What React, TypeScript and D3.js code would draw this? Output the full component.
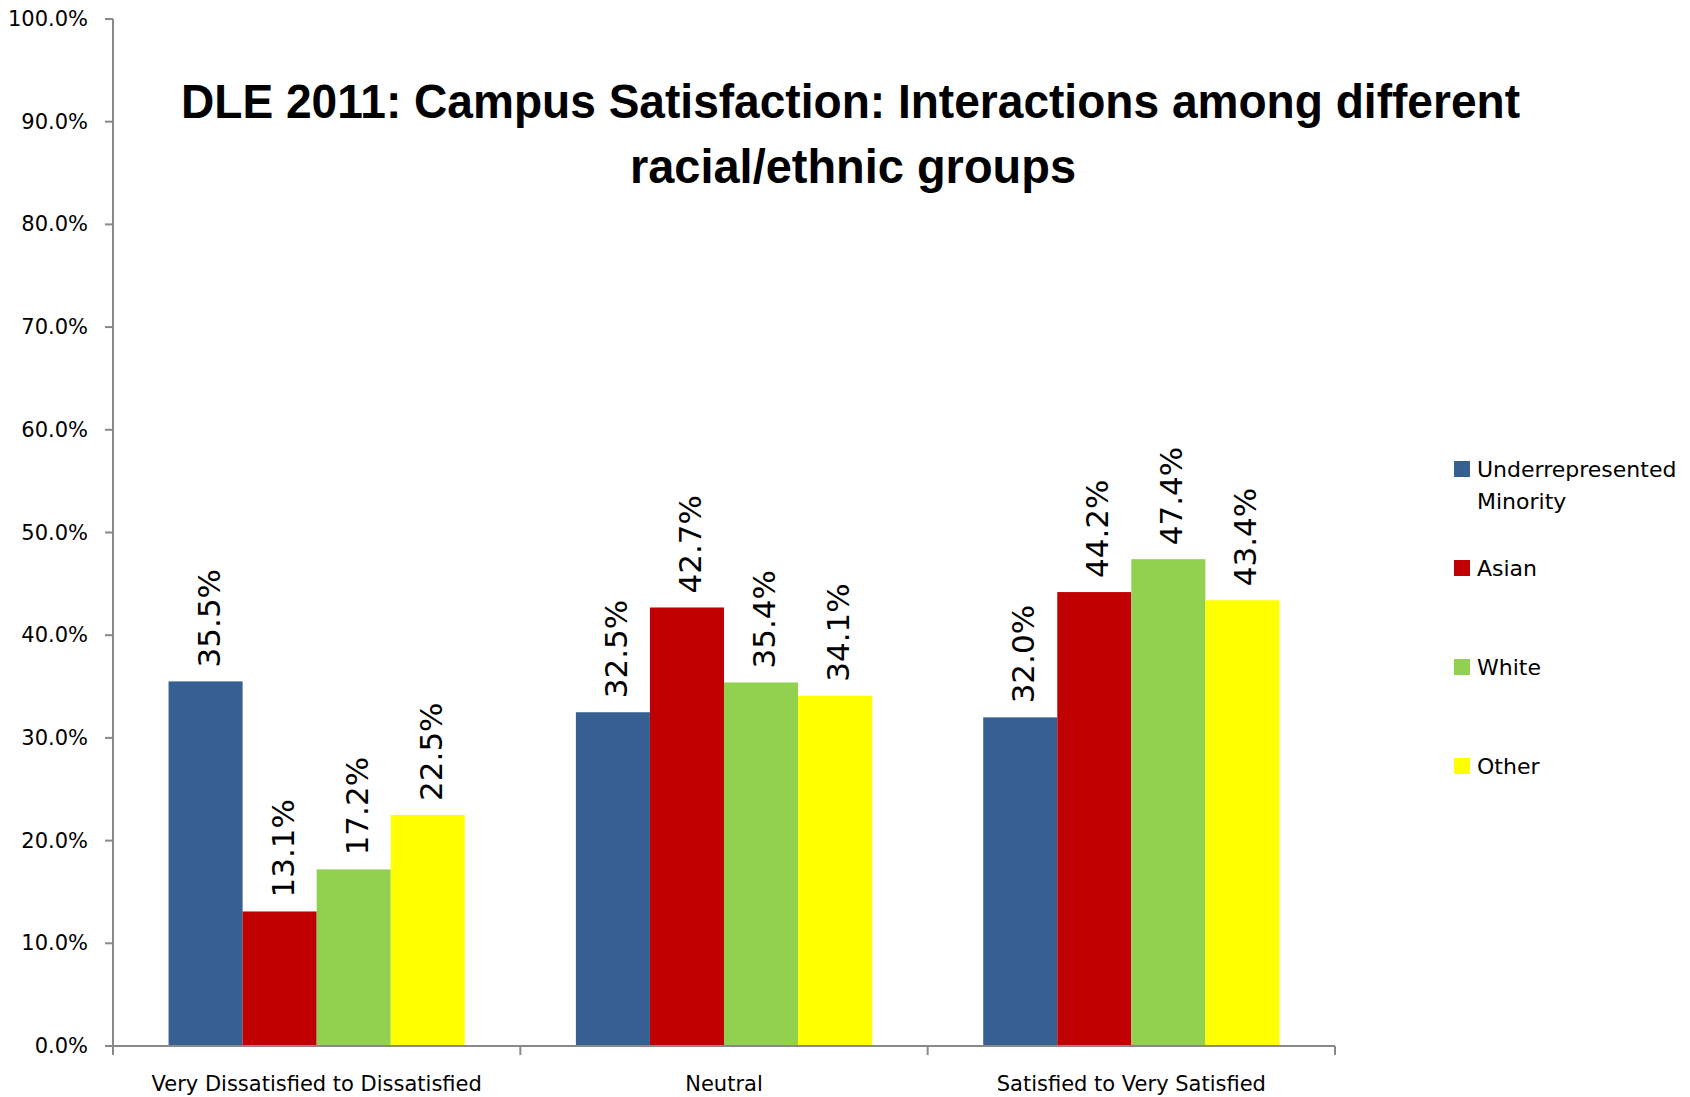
import * as d3 from 'd3';
import { useRef, useEffect } from 'react';

const categories = ['Very Dissatisfied to Dissatisfied', 'Neutral', 'Satisfied to Very Satisfied'];
const seriesNames = ['Underrepresented Minority', 'Asian', 'White', 'Other'];
const seriesColors = ['#366092', '#C00000', '#92D050', '#FFFF00'];
const urmValues = [35.5, 32.5, 32.0];
const asianValues = [13.1, 42.7, 44.2];
const whiteValues = [17.2, 35.4, 47.4];
const otherValues = [22.5, 34.1, 43.4];
const yTicks = [0, 10, 20, 30, 40, 50, 60, 70, 80, 90, 100];
const titleLines = ['DLE 2011: Campus Satisfaction: Interactions among different', 'racial/ethnic groups'];

const font = '"DejaVu Sans", sans-serif';

const App = () => {
    const svgRef = useRef<SVGSVGElement | null>(null);

    useEffect(() => {
        const width = 1690;
        const height = 1097;
        const left = 113, right = 1335, top = 19, bottom = 1046;

        d3.select(svgRef.current).selectAll('*').remove();
        const svg = d3.select(svgRef.current)
            .attr('width', width)
            .attr('height', height);

        svg.append('rect').attr('width', width).attr('height', height).attr('fill', '#fff');

        const allSeries = [urmValues, asianValues, whiteValues, otherValues];
        const rows = categories.map((c, i) => ({
            category: c,
            values: seriesNames.map((s, j) => ({ series: s, value: allSeries[j][i], color: seriesColors[j] }))
        }));

        // scales - Excel style gap width 150%
        const x0 = d3.scaleBand()
            .domain(categories)
            .range([left, right])
            .paddingInner(1.5 / 5.5)
            .paddingOuter(0.75 / 5.5);
        const x1 = d3.scaleBand()
            .domain(seriesNames)
            .range([0, x0.bandwidth()]);
        const y = d3.scaleLinear().domain([0, 100]).range([bottom, top]);

        // bars
        const groups = svg.selectAll('g.group')
            .data(rows)
            .enter()
            .append('g')
            .attr('class', 'group')
            .attr('transform', d => `translate(${x0(d.category)},0)`);

        groups.selectAll('rect')
            .data(d => d.values)
            .enter()
            .append('rect')
            .attr('x', d => x1(d.series)!)
            .attr('y', d => y(d.value))
            .attr('width', x1.bandwidth())
            .attr('height', d => bottom - y(d.value))
            .attr('fill', d => d.color);

        // rotated value labels
        groups.selectAll('text')
            .data(d => d.values)
            .enter()
            .append('text')
            .attr('transform', d => `translate(${x1(d.series)! + x1.bandwidth() / 2 + 14},${y(d.value) - 14}) rotate(-90)`)
            .attr('font-family', font)
            .attr('font-size', 31)
            .attr('fill', '#000')
            .text(d => d.value.toFixed(1) + '%');

        // y axis
        const axisColor = '#898989';
        svg.append('line')
            .attr('x1', left).attr('x2', left)
            .attr('y1', top).attr('y2', bottom + 9)
            .attr('stroke', axisColor).attr('stroke-width', 2);
        svg.selectAll('line.ytick')
            .data(yTicks)
            .enter()
            .append('line')
            .attr('class', 'ytick')
            .attr('x1', left - 8).attr('x2', left)
            .attr('y1', d => y(d)).attr('y2', d => y(d))
            .attr('stroke', axisColor).attr('stroke-width', 2);
        svg.selectAll('text.ylabel')
            .data(yTicks)
            .enter()
            .append('text')
            .attr('class', 'ylabel')
            .attr('x', 88)
            .attr('y', d => y(d) + 7)
            .attr('text-anchor', 'end')
            .attr('font-family', font)
            .attr('font-size', 21)
            .attr('fill', '#000')
            .text(d => d.toFixed(1) + '%');

        // x axis
        svg.append('line')
            .attr('x1', left).attr('x2', right)
            .attr('y1', bottom).attr('y2', bottom)
            .attr('stroke', axisColor).attr('stroke-width', 2);
        const step = x0.step();
        svg.selectAll('line.xtick')
            .data(categories)
            .enter()
            .append('line')
            .attr('class', 'xtick')
            .attr('x1', (_, i) => left + step * (i + 1))
            .attr('x2', (_, i) => left + step * (i + 1))
            .attr('y1', bottom).attr('y2', bottom + 9)
            .attr('stroke', axisColor).attr('stroke-width', 2);
        svg.selectAll('text.xlabel')
            .data(categories)
            .enter()
            .append('text')
            .attr('class', 'xlabel')
            .attr('x', d => x0(d)! + x0.bandwidth() / 2)
            .attr('y', 1091)
            .attr('text-anchor', 'middle')
            .attr('font-family', font)
            .attr('font-size', 21)
            .attr('fill', '#000')
            .text(d => d);

        // title
        const titleWidths = [1339, 446];
        svg.selectAll('text.title')
            .data(titleLines)
            .enter()
            .append('text')
            .attr('class', 'title')
            .attr('x', (_, i) => (i === 0 ? 181 : 630))
            .attr('y', (_, i) => 118 + i * 65)
            .attr('textLength', (_, i) => titleWidths[i])
            .attr('lengthAdjust', 'spacingAndGlyphs')
            .attr('font-family', '"Liberation Sans", Arial, sans-serif')
            .attr('font-weight', 'bold')
            .attr('font-size', 48)
            .attr('fill', '#000')
            .text(d => d);

        // legend
        const legendY = [461, 560, 659, 758];
        const legend = svg.selectAll('g.legend')
            .data(seriesNames)
            .enter()
            .append('g')
            .attr('class', 'legend')
            .attr('transform', (_, i) => `translate(1454,${legendY[i]})`);
        legend.append('rect')
            .attr('width', 16).attr('height', 16)
            .attr('fill', (_, i) => seriesColors[i]);
        legend.append('text')
            .attr('x', 23)
            .attr('y', 16)
            .attr('font-family', font)
            .attr('font-size', 22)
            .attr('fill', '#000')
            .each(function (d) {
                const words = d === 'Underrepresented Minority' ? ['Underrepresented', 'Minority'] : [d];
                const self = d3.select(this);
                words.forEach((w, i) => {
                    self.append('tspan')
                        .attr('x', 23)
                        .attr('dy', i === 0 ? 0 : 32)
                        .text(w);
                });
            });
    }, []);

    return (
        <svg ref={svgRef} style={{ position: 'absolute', left: 0, top: 0, display: 'block' }}></svg>
    );
};

export default App;
